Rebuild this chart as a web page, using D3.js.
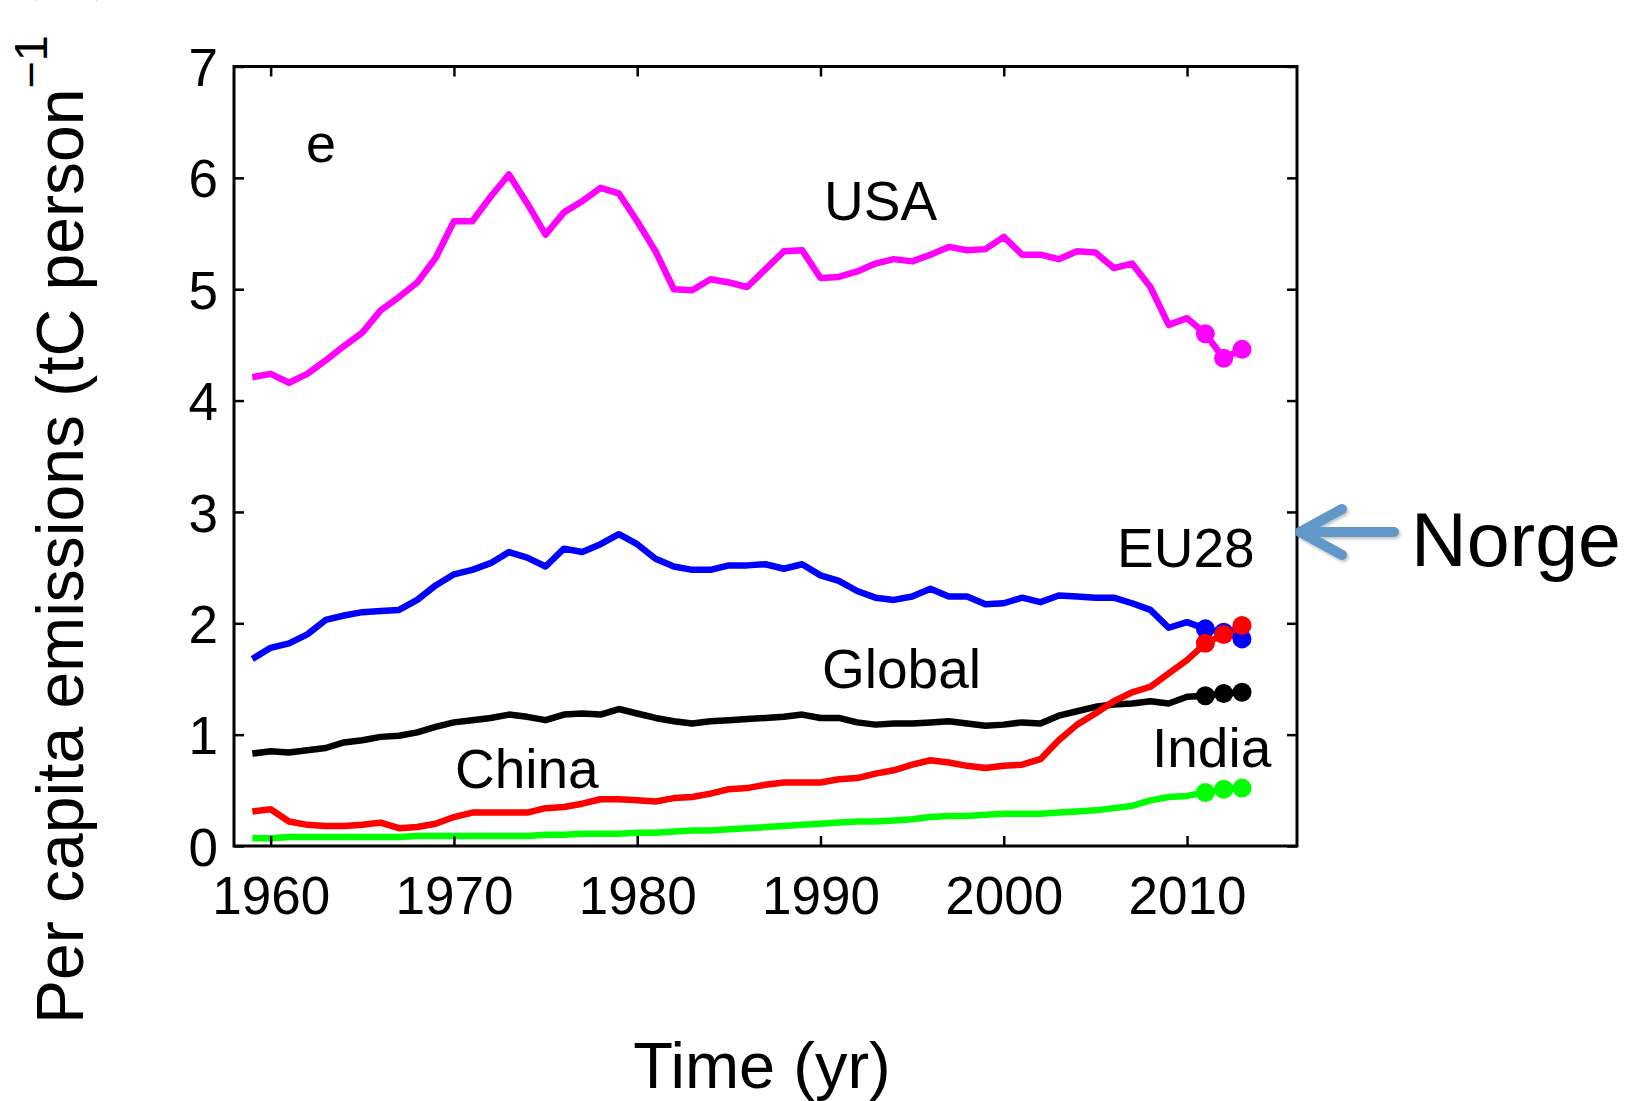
<!DOCTYPE html>
<html>
<head>
<meta charset="utf-8">
<script src="https://cdn.jsdelivr.net/npm/d3@7"></script>
<style>
  html, body { margin: 0; padding: 0; background: #fff; }
  svg { display: block; }
  text { font-family: "Liberation Sans", Arial, Helvetica, sans-serif; fill: #000; }
</style>
</head>
<body>
<svg id="chart" width="1639" height="1101"></svg>
<script>
// Per capita fossil CO2 emissions, tC per person, 1959–2013
const years = d3.range(1959, 2014);

const usa = [4.21, 4.24, 4.16, 4.24, 4.36, 4.49, 4.61, 4.81, 4.93, 5.06,
  5.28, 5.61, 5.61, 5.83, 6.03, 5.77, 5.49, 5.69, 5.79, 5.91,
  5.86, 5.61, 5.34, 5.00, 4.99, 5.09, 5.06, 5.02, 5.18, 5.34,
  5.35, 5.10, 5.11, 5.16, 5.23, 5.27, 5.25, 5.31, 5.38, 5.35,
  5.36, 5.47, 5.31, 5.31, 5.27, 5.34, 5.33, 5.19, 5.23, 5.02,
  4.68, 4.74, 4.60, 4.38, 4.46];

const eu28 = [1.68, 1.78, 1.82, 1.90, 2.03, 2.07, 2.10, 2.11, 2.12, 2.21,
  2.34, 2.44, 2.48, 2.54, 2.64, 2.59, 2.51, 2.67, 2.64, 2.71,
  2.80, 2.71, 2.58, 2.51, 2.48, 2.48, 2.52, 2.52, 2.53, 2.49,
  2.53, 2.43, 2.38, 2.29, 2.23, 2.21, 2.24, 2.31, 2.24, 2.24,
  2.17, 2.18, 2.23, 2.19, 2.25, 2.24, 2.23, 2.23, 2.18, 2.12,
  1.96, 2.01, 1.95, 1.92, 1.86];

const globalAvg = [0.83, 0.85, 0.84, 0.86, 0.88, 0.93, 0.95, 0.98, 0.99, 1.02,
  1.07, 1.11, 1.13, 1.15, 1.18, 1.16, 1.13, 1.18, 1.19, 1.18,
  1.23, 1.19, 1.15, 1.12, 1.10, 1.12, 1.13, 1.14, 1.15, 1.16,
  1.18, 1.15, 1.15, 1.11, 1.09, 1.10, 1.10, 1.11, 1.12, 1.10,
  1.08, 1.09, 1.11, 1.10, 1.17, 1.21, 1.25, 1.27, 1.28, 1.30,
  1.28, 1.34, 1.35, 1.37, 1.38];

const china = [0.31, 0.33, 0.22, 0.19, 0.18, 0.18, 0.19, 0.21, 0.16, 0.17,
  0.20, 0.26, 0.30, 0.30, 0.30, 0.30, 0.34, 0.35, 0.38, 0.42,
  0.42, 0.41, 0.40, 0.43, 0.44, 0.47, 0.51, 0.52, 0.55, 0.57,
  0.57, 0.57, 0.60, 0.61, 0.65, 0.68, 0.73, 0.77, 0.75, 0.72,
  0.70, 0.72, 0.73, 0.78, 0.95, 1.09, 1.19, 1.30, 1.38, 1.43,
  1.55, 1.67, 1.82, 1.90, 1.98];

const india = [0.07, 0.07, 0.08, 0.08, 0.08, 0.08, 0.08, 0.08, 0.08, 0.09,
  0.09, 0.09, 0.09, 0.09, 0.09, 0.09, 0.10, 0.10, 0.11, 0.11,
  0.11, 0.12, 0.12, 0.13, 0.14, 0.14, 0.15, 0.16, 0.17, 0.18,
  0.19, 0.20, 0.21, 0.22, 0.22, 0.23, 0.24, 0.26, 0.27, 0.27,
  0.28, 0.29, 0.29, 0.29, 0.30, 0.31, 0.32, 0.34, 0.36, 0.41,
  0.44, 0.45, 0.48, 0.51, 0.52];

// Most recent years are highlighted with markers
const markerYears = [2011, 2012, 2013];

const xTicks = [1960, 1970, 1980, 1990, 2000, 2010];
const yTicks = [0, 1, 2, 3, 4, 5, 6, 7];

const seriesList = [
  { name: "USA",    values: usa,       color: "#ff00ff", label: "USA",    lx: 824,  ly: 220 },
  { name: "EU28",   values: eu28,      color: "#0000ff", label: "EU28",   lx: 1117, ly: 567 },
  { name: "Global", values: globalAvg, color: "#000000", label: "Global", lx: 822,  ly: 688 },
  { name: "China",  values: china,     color: "#ff0000", label: "China",  lx: 455,  ly: 788 },
  { name: "India",  values: india,     color: "#00ff00", label: "India",  lx: 1152, ly: 767 }
];

const svg = d3.select("#chart");

const plot = { left: 234, right: 1297, top: 66.5, bottom: 846 };

const x = d3.scaleLinear().domain([1958, 2016]).range([plot.left, plot.right]);
const y = d3.scaleLinear().domain([0, 7]).range([plot.bottom, plot.top]);

// Data lines
const line = d3.line()
  .x((d, i) => x(years[i]))
  .y(d => y(d));

const marks = svg.append("g");
seriesList.forEach(s => {
  marks.append("path")
    .datum(s.values)
    .attr("fill", "none")
    .attr("stroke", s.color)
    .attr("stroke-width", 6.5)
    .attr("stroke-linejoin", "round")
    .attr("d", line);
});
seriesList.forEach(s => {
  marks.selectAll(null)
    .data(markerYears)
    .enter().append("circle")
    .attr("cx", yr => x(yr))
    .attr("cy", yr => y(s.values[years.indexOf(yr)]))
    .attr("r", 9.5)
    .attr("fill", s.color);
});

// Box axes with inward ticks on all four sides
const tickLen = 10;
const axes = svg.append("g");

const axBottom = axes.append("g")
  .attr("transform", `translate(0,${plot.bottom})`)
  .call(d3.axisBottom(x).tickValues(xTicks).tickSize(-tickLen).tickSizeOuter(0).tickFormat(d3.format("d")));
const axTop = axes.append("g")
  .attr("transform", `translate(0,${plot.top})`)
  .call(d3.axisTop(x).tickValues(xTicks).tickSize(-tickLen).tickSizeOuter(0).tickFormat(""));
const axLeft = axes.append("g")
  .attr("transform", `translate(${plot.left},0)`)
  .call(d3.axisLeft(y).tickValues(yTicks).tickSize(-tickLen).tickSizeOuter(0).tickFormat(d3.format("d")));
const axRight = axes.append("g")
  .attr("transform", `translate(${plot.right},0)`)
  .call(d3.axisRight(y).tickValues(yTicks).tickSize(-tickLen).tickSizeOuter(0).tickFormat(""));

[axBottom, axTop, axLeft, axRight].forEach(g => {
  g.select(".domain").remove();
  g.selectAll(".tick line").attr("stroke", "#000").attr("stroke-width", 2.5);
});

axBottom.selectAll(".tick text")
  .attr("font-size", 53)
  .attr("font-family", "Liberation Sans, Arial, sans-serif")
  .attr("y", 0).attr("dy", 0)
  .attr("transform", "translate(0,68)")
  .attr("fill", "#000");

axLeft.selectAll(".tick text")
  .attr("font-size", 53)
  .attr("font-family", "Liberation Sans, Arial, sans-serif")
  .attr("x", -16)
  .attr("dy", "0.36em")
  .attr("fill", "#000");

// Frame
axes.append("rect")
  .attr("x", plot.left).attr("y", plot.top)
  .attr("width", plot.right - plot.left)
  .attr("height", plot.bottom - plot.top)
  .attr("fill", "none")
  .attr("stroke", "#000")
  .attr("stroke-width", 3);

// Panel letter
svg.append("text")
  .attr("x", 306).attr("y", 162)
  .attr("font-size", 54)
  .text("e");

// Series labels
svg.append("g").selectAll("text")
  .data(seriesList)
  .enter().append("text")
  .attr("x", d => d.lx)
  .attr("y", d => d.ly)
  .attr("font-size", 55)
  .text(d => d.label);

// Axis titles
svg.append("text")
  .attr("x", 762).attr("y", 1088)
  .attr("text-anchor", "middle")
  .attr("font-size", 65)
  .text("Time (yr)");

const yTitle = svg.append("text")
  .attr("transform", "translate(83,1024) rotate(-90)")
  .attr("font-size", 66);
yTitle.append("tspan").text("Per capita emissions (tC person");
yTitle.append("tspan").attr("dy", -36).attr("font-size", 47).text("\u22121");
yTitle.append("tspan").attr("dy", 36).attr("dx", 34).text(")");

// Annotation arrow pointing at the frame
const defs = svg.append("defs");
const shadow = defs.append("filter").attr("id", "soft").attr("x", "-20%").attr("y", "-50%").attr("width", "140%").attr("height", "200%");
shadow.append("feDropShadow")
  .attr("dx", 1.5).attr("dy", 2).attr("stdDeviation", 1.8)
  .attr("flood-color", "#000").attr("flood-opacity", 0.25);

const arrowColor = "#6297ca";
const arrow = svg.append("g").attr("filter", "url(#soft)")
  .attr("stroke", arrowColor).attr("stroke-width", 10)
  .attr("stroke-linecap", "round").attr("stroke-linejoin", "round").attr("fill", "none");
arrow.append("path").attr("d", "M1394,532 L1300,532");
arrow.append("path").attr("d", "M1342,509 L1300,532 L1342,555");

svg.append("text")
  .attr("x", 1411).attr("y", 566)
  .attr("font-family", "'Comic Sans MS', 'Comic Neue', 'DejaVu Sans', sans-serif")
  .attr("font-size", 76)
  .attr("textLength", 210)
  .attr("lengthAdjust", "spacingAndGlyphs")
  .text("Norge");
</script>
</body>
</html>
